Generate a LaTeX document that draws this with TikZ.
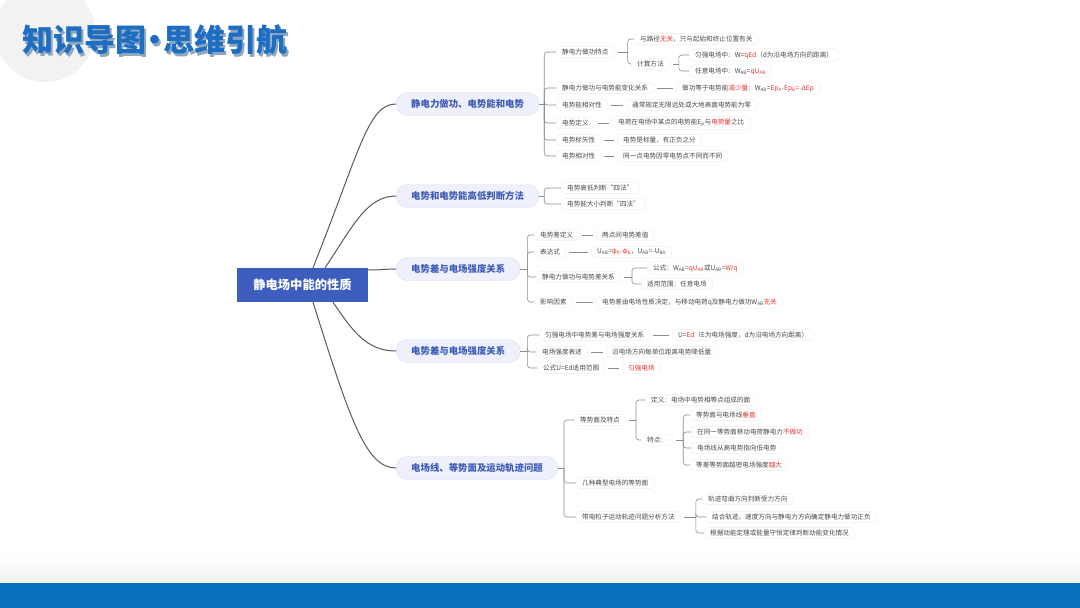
\documentclass[tikz,border=0pt]{standalone}
\usepackage{fontspec}
\setmainfont{Noto Sans CJK SC}
\usetikzlibrary{calc}
\definecolor{hlred}{HTML}{E8332E}
\definecolor{brblue}{HTML}{3F5BB8}
\definecolor{brfill}{HTML}{EEF1FB}
\definecolor{brdraw}{HTML}{D9DEF2}
\definecolor{ctrfill}{HTML}{3E5EBF}
\definecolor{barblue}{HTML}{0670BE}
\definecolor{ttlblue}{HTML}{1D6DC2}
\definecolor{ttlshadow}{HTML}{8FA6BF}
\definecolor{leaftext}{HTML}{4A4A4A}
\definecolor{linegray}{HTML}{5A5A5A}
\newcommand\rd[1]{\textcolor{hlred}{#1}}
\newcommand\lsub[1]{\textsubscript{#1}}
\newcommand\ttltext{知识导图\makebox[0.55em][c]{·}思维引航}
\begin{document}
\begin{tikzpicture}[x=1pt,y=-1pt,
  leaf/.style={draw=black!7, fill=white, rounded corners=4pt, inner xsep=6pt, inner ysep=2.5pt, anchor=west, text=leaftext, font=\fontsize{6.6}{8}\selectfont},
  branch/.style={draw=brdraw, fill=brfill, rounded corners=11.5pt, minimum height=23pt, inner xsep=15pt, anchor=west, text=brblue, font=\fontsize{9.4}{11}\selectfont\bfseries},
  mainline/.style={draw=linegray, line width=1pt},
  brk/.style={draw=black!45, line width=0.6pt, rounded corners=3pt},
  dsh/.style={draw=black!45, line width=0.6pt, shorten <=3pt, shorten >=3pt},
  ttl/.style={anchor=west, inner sep=0pt, font=\fontsize{31}{34}\selectfont\bfseries}]

\useasboundingbox (0,0) rectangle (1080,608);
\fill[white] (0,0) rectangle (1080,608);
\fill[black!5] (45,32) circle (50);
\shade[top color=white, bottom color=black!6] (0,555) rectangle (1080,583);
\fill[barblue] (0,583) rectangle (1080,608);

% title
\node[ttl, text=ttlshadow] at (24,42.5) {\ttltext};
\node[ttl, text=ttlblue] (title) at (22,40) {\ttltext};

% centre
\node[fill=ctrfill, minimum width=131pt, minimum height=34pt, inner sep=0pt, text=white, font=\fontsize{12.3}{14}\selectfont\bfseries] (C) at (302.5,285) {静电场中能的性质};

% branches
\node[branch] (B1) at (396,104) {静电力做功、电势能和电势};
\node[branch] (B2) at (396,196) {电势和电势能高低判断方法};
\node[branch] (B3) at (396,269) {电势差与电场强度关系};
\node[branch] (B4) at (396,351) {电势差与电场强度关系};
\node[branch] (B5) at (396,468) {电场线、等势面及运动轨迹问题};

\draw[mainline] ([xshift=10.5pt]C.north) .. controls (360,150) and (368,104) .. (B1.west);
\draw[mainline] ([xshift=22.5pt]C.north) .. controls (352,228) and (366,196) .. (B2.west);
\draw[mainline] ([yshift=15pt]C.east) .. controls (382,270) and (384,269) .. (B3.west);
\draw[mainline] ([xshift=30.5pt]C.south) .. controls (352,330) and (366,351) .. (B4.west);
\draw[mainline] ([xshift=10.5pt]C.south) .. controls (350,420) and (366,468) .. (B5.west);

% ---------- branch 1
\node[leaf] (a1) at (556,52) {静电力做功特点};
\node[leaf] (a11) at (634,39) {与路径\rd{无关}，只与起始和终止位置有关};
\node[leaf] (a12) at (631,64) {计算方法};
\node[leaf] (a121) at (689,55) {匀强电场中：W=\rd{qEd}（d为沿电场方向的距离）};
\node[leaf] (a122) at (689,71) {任意电场中：W\lsub{AB}=\rd{qU\lsub{AB}}};
\node[leaf] (a2) at (556,88) {静电力做功与电势能变化关系};
\node[leaf] (a2v) at (676,88) {做功等于电势能\rd{减少量}：W\lsub{AB}=\rd{Ep\lsub{A}-Ep\lsub{B}=-ΔEp}};
\node[leaf] (a3) at (556,105) {电势能相对性};
\node[leaf] (a3v) at (626,105) {通常规定无限远处或大地表面电势能为零};
\node[leaf] (a4) at (556,123) {电势定义};
\node[leaf] (a4v) at (612,123) {电荷在电场中某点的电势能E\lsub{p}与\rd{电荷量}之比};
\node[leaf] (a5) at (556,140) {电势标矢性};
\node[leaf] (a5v) at (617,140) {电势是标量，有正负之分};
\node[leaf] (a6) at (556,156) {电势相对性};
\node[leaf] (a6v) at (617,156) {同一点电势因零电势点不同而不同};

\coordinate (J1) at ([xshift=5pt]B1.east);
\draw[brk] (B1.east) -- (J1);
\foreach \c in {a1,a2,a3,a4,a5,a6} \draw[brk] (J1) |- (\c.west);
\coordinate (Ja1) at ([xshift=13pt]a1.east);
\draw[dsh, shorten >=0pt] (a1.east) -- (Ja1);
\foreach \c in {a11,a12} \draw[brk] (Ja1) |- (\c.west);
\coordinate (Ja12) at ([xshift=9pt]a12.east);
\draw[dsh, shorten >=0pt] (a12.east) -- (Ja12);
\foreach \c in {a121,a122} \draw[brk] (Ja12) |- (\c.west);
\draw[dsh] (a2.east) -- (a2v.west);
\draw[dsh] (a3.east) -- (a3v.west);
\draw[dsh] (a4.east) -- (a4v.west);
\draw[dsh] (a5.east) -- (a5v.west);
\draw[dsh] (a6.east) -- (a6v.west);

% ---------- branch 2
\node[leaf] (b1) at (561,188) {电势高低判断“四法”};
\node[leaf] (b2) at (561,204) {电势能大小判断“四法”};
\coordinate (J2) at ([xshift=5pt]B2.east);
\draw[brk] (B2.east) -- (J2);
\foreach \c in {b1,b2} \draw[brk] (J2) |- (\c.west);

% ---------- branch 3
\node[leaf] (c1) at (534,235) {电势差定义};
\node[leaf] (c1v) at (596,235) {两点间电势差值};
\node[leaf] (c2) at (534,252) {表达式};
\node[leaf] (c2v) at (591,252) {U\lsub{AB}=\rd{φ\lsub{A}-φ\lsub{B}}，U\lsub{AB}=-U\lsub{BA}};
\node[leaf] (c3) at (536,277) {静电力做功与电势差关系};
\node[leaf] (c31) at (647,268) {公式：W\lsub{AB}=\rd{qU\lsub{AB}}或U\lsub{AB}=\rd{W/q}};
\node[leaf] (c32) at (641,284) {适用范围：任意电场};
\node[leaf] (c4) at (534,302) {影响因素};
\node[leaf] (c4v) at (596,302) {电势差由电场性质决定，与移动电荷q及静电力做功W\lsub{AB}\rd{无关}};
\coordinate (J3) at ([xshift=7pt]B3.east);
\draw[brk] (B3.east) -- (J3);
\foreach \c in {c1,c2,c3,c4} \draw[brk] (J3) |- (\c.west);
\coordinate (Jc3) at ([xshift=11pt]c3.east);
\draw[dsh, shorten >=0pt] (c3.east) -- (Jc3);
\foreach \c in {c31,c32} \draw[brk] (Jc3) |- (\c.west);
\draw[dsh] (c1.east) -- (c1v.west);
\draw[dsh] (c2.east) -- (c2v.west);
\draw[dsh] (c4.east) -- (c4v.west);

% ---------- branch 4
\node[leaf] (d1) at (539,335) {匀强电场中电势差与电场强度关系};
\node[leaf] (d1v) at (672,335) {U=\rd{Ed}（E为电场强度，d为沿电场方向距离）};
\node[leaf] (d2) at (536,352) {电场强度表述};
\node[leaf] (d2v) at (606,352) {沿电场方向每单位距离电势降低量};
\node[leaf] (d3) at (537,368) {公式U=Ed适用范围};
\node[leaf] (d3v) at (622,368) {\rd{匀强电场}};
\coordinate (J4) at ([xshift=7pt]B4.east);
\draw[brk] (B4.east) -- (J4);
\foreach \c in {d1,d2,d3} \draw[brk] (J4) |- (\c.west);
\draw[dsh] (d1.east) -- (d1v.west);
\draw[dsh] (d2.east) -- (d2v.west);
\draw[dsh] (d3.east) -- (d3v.west);

% ---------- branch 5
\node[leaf] (e1) at (574,420) {等势面及特点};
\node[leaf] (e11) at (645,400) {定义：电场中电势相等点组成的面};
\node[leaf] (e12) at (641,440) {特点：};
\node[leaf] (e121) at (690,415) {等势面与电场线\rd{垂直}};
\node[leaf] (e122) at (691,432) {在同一等势面移动电荷静电力\rd{不做功}};
\node[leaf] (e123) at (691,448) {电场线从高电势指向低电势};
\node[leaf] (e124) at (690,465) {等差等势面越密电场强度\rd{越大}};
\node[leaf] (e2) at (576,483) {几种典型电场的等势面};
\node[leaf] (e3) at (576,517) {带电粒子运动轨迹问题分析方法};
\node[leaf] (e31) at (702,499) {轨迹弯曲方向判断受力方向};
\node[leaf] (e32) at (706,517) {结合轨迹、速度方向与静电力方向确定静电力做功正负};
\node[leaf] (e33) at (704,533) {根据动能定理或能量守恒定律判断动能变化情况};
\coordinate (J5) at ([xshift=6pt]B5.east);
\draw[brk] (B5.east) -- (J5);
\foreach \c in {e1,e2,e3} \draw[brk] (J5) |- (\c.west);
\coordinate (Je1) at ([xshift=10pt]e1.east);
\draw[dsh, shorten >=0pt] (e1.east) -- (Je1);
\foreach \c in {e11,e12} \draw[brk] (Je1) |- (\c.west);
\coordinate (Je12) at ([xshift=10pt]e12.east);
\draw[dsh, shorten >=0pt] (e12.east) -- (Je12);
\foreach \c in {e121,e122,e123,e124} \draw[brk] (Je12) |- (\c.west);
\coordinate (Je3) at ([xshift=15pt]e3.east);
\draw[dsh, shorten >=0pt] (e3.east) -- (Je3);
\foreach \c in {e31,e32,e33} \draw[brk] (Je3) |- (\c.west);
\end{tikzpicture}
\end{document}
